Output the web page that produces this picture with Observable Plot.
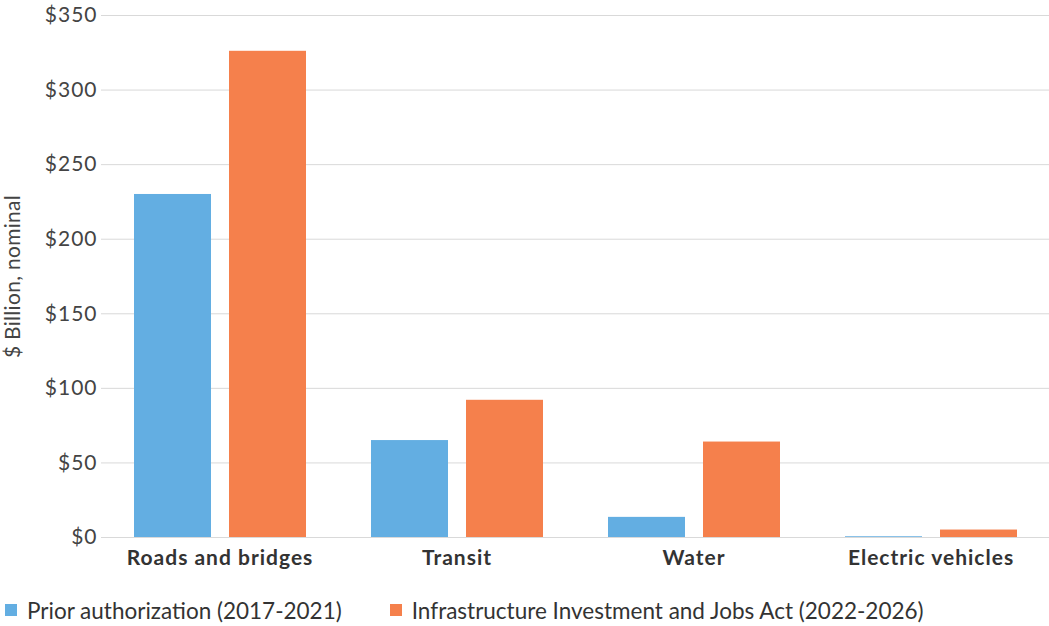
<!DOCTYPE html>
<html>
<head>
<meta charset="utf-8">
<script src="https://cdn.jsdelivr.net/npm/d3@7"></script>
<script src="https://cdn.jsdelivr.net/npm/@observablehq/plot@0.6"></script>
<style>
  body { margin: 0; background: #fff; font-family: Lato, "Open Sans", sans-serif; }
  #legend { display: flex; align-items: center; height: 40px; padding-left: 5px; font-size: 22.5px; color: #333; }
  .item { display: flex; align-items: center; margin-right: 48px; }
  .sw { width: 12px; height: 12px; margin-right: 10px; }
  g[aria-label="y-axis tick label"] text { letter-spacing: 1px; }
  g[aria-label="fx-axis tick label"] text { letter-spacing: 1px; }
  g[aria-label="y-axis label"] text { letter-spacing: 0.3px; }
</style>
</head>
<body>
<div id="chart"></div>
<div id="legend"></div>
<script>
const categories = ["Roads and bridges", "Transit", "Water", "Electric vehicles"];
const series = ["Prior authorization (2017-2021)", "Infrastructure Investment and Jobs Act (2022-2026)"];
const prior = [230, 65, 13.5, 0.5];
const iija = [326, 92, 64, 5];
const yTicks = [0, 50, 100, 150, 200, 250, 300, 350];
const colors = ["#63AEE2", "#F5804C"];

const data = categories.flatMap((c, i) => [
  {category: c, series: series[0], value: prior[i]},
  {category: c, series: series[1], value: iija[i]}
]);

const chart = Plot.plot({
  width: 1049,
  height: 590,
  marginLeft: 101,
  marginRight: 0,
  marginTop: 15,
  marginBottom: 53,
  style: {fontFamily: "Lato, sans-serif", fontSize: "21px", color: "#333", background: "#fff"},
  fx: {domain: categories, padding: 0, label: null, axis: null},
  x: {domain: series, paddingInner: 0.19, paddingOuter: 0.34, axis: null},
  y: {domain: [0, 350], axis: null},
  color: {domain: series, range: colors},
  marks: [
    Plot.gridY(yTicks, {stroke: "#d9d9d9", strokeOpacity: 1}),
    Plot.barY(data, {fx: "category", x: "series", y: "value", fill: "series"}),
    Plot.axisY(yTicks, {tickSize: 0, tickPadding: 4, tickFormat: d => "$" + d, fontSize: 21, fill: "#444",
      label: "$ Billion, nominal", labelArrow: "none", labelAnchor: "center", labelOffset: 96}),
    Plot.axisFx({anchor: "bottom", tickSize: 0, tickPadding: 13, fontWeight: "bold", fontSize: 21, fill: "#333", label: null})
  ]
});
document.getElementById("chart").appendChild(chart);

const legend = document.getElementById("legend");
series.forEach((s, i) => {
  const item = document.createElement("div");
  item.className = "item";
  const sw = document.createElement("span");
  sw.className = "sw";
  sw.style.background = colors[i];
  const t = document.createElement("span");
  t.textContent = s;
  item.appendChild(sw);
  item.appendChild(t);
  legend.appendChild(item);
});
</script>
</body>
</html>
